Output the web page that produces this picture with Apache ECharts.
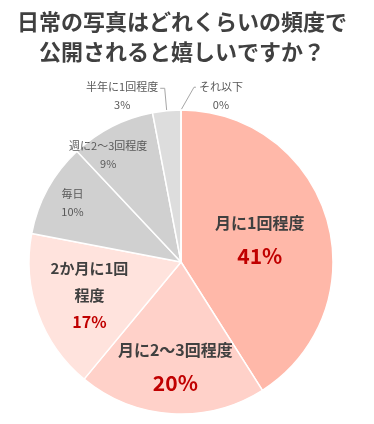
<!DOCTYPE html>
<html>
<head>
<meta charset="utf-8">
<script src="https://cdn.jsdelivr.net/npm/echarts@6/dist/echarts.min.js"></script>
<style>
html,body{margin:0;padding:0;background:#fff;}
#chart{width:374px;height:424px;}
</style>
</head>
<body>
<div id="chart"></div>
<script>
// ---- data ----
var titleLines = ['日常の写真はどれくらいの頻度で', '公開されると嬉しいですか？'];
var categories = ['月に1回程度', '月に2〜3回程度', '2か月に1回\n程度', '毎日', '週に2〜3回程度', '半年に1回程度', 'それ以下'];
var values = [41, 20, 17, 10, 9, 3, 0];

// ---- styling / layout ----
var colors = ['#FFB8A9', '#FFD1C9', '#FFE3DD', '#D0D0D0', '#D0D0D0', '#DDDDDD', '#E6E6E6'];
var labelKinds = ['big', 'big', 'mid', 'small', 'small', 'small', 'small'];
// label anchor in polar terms: [radius fraction, angle shift (deg) from slice middle]
var labelPolar = [[0.54, 0], [0.685, -0.5], [0.64, 0], [0.815, 0], [0.85, -7.3], [1.16, -14.1], [1.125, 13.5]];
var outside = [false, false, false, false, false, true, true];
var CX = 181, CY = 262, R = 152;

var chart = echarts.init(document.getElementById('chart'));

var total = values.reduce(function (a, b) { return a + b; }, 0);
var midAngles = [];
var acc = 0;
values.forEach(function (v) {
  midAngles.push((acc + v / 2) / total * 360);
  acc += v;
});
function polar(r, deg) {
  var a = deg * Math.PI / 180;
  return [CX + r * Math.sin(a), CY - r * Math.cos(a)];
}

var data = categories.map(function (c, i) {
  var kind = labelKinds[i];
  var fmt;
  if (kind === 'big') fmt = '{bn|{b}}\n{bp|{c}%}';
  else if (kind === 'mid') fmt = '{mn|2か月に1回}\n{mn|程度}\n{mp|{c}%}';
  else fmt = '{sn|{b}}\n{sp|{c}%}';
  return {
    name: c,
    value: values[i],
    itemStyle: { color: colors[i] },
    label: { position: outside[i] ? 'outside' : 'inside', formatter: fmt },
    labelLine: { show: outside[i], lineStyle: { color: '#A6A6A6', width: 1 }, length: 10, length2: 6 }
  };
});

var option = {
  animation: false,
  backgroundColor: '#ffffff',
  graphic: [{
    type: 'text',
    x: 182,
    y: 7,
    style: {
      text: titleLines.join('\n'),
      fontSize: 22,
      fontWeight: 'bold',
      fill: '#404040',
      lineHeight: 30,
      align: 'center',
      verticalAlign: 'top',
      fontFamily: '"Noto Sans CJK JP", "Noto Sans", sans-serif'
    }
  }],
  series: [{
    type: 'pie',
    center: [CX, CY],
    radius: [0, R],
    startAngle: 90,
    clockwise: true,
    avoidLabelOverlap: false,
    minShowLabelAngle: 0,
    itemStyle: { borderColor: '#ffffff', borderWidth: 1.5 },
    label: {
      show: true,
      fontFamily: '"Noto Sans CJK JP", "Noto Sans", sans-serif',
      rich: {
        bn: { fontSize: 16, fontWeight: 'bold', color: '#404040', lineHeight: 34, align: 'center' },
        bp: { fontSize: 21, fontWeight: 'bold', color: '#C00000', lineHeight: 32, align: 'center' },
        mn: { fontSize: 15, fontWeight: 'bold', color: '#404040', lineHeight: 27, align: 'center' },
        mp: { fontSize: 16, fontWeight: 'bold', color: '#C00000', lineHeight: 26, align: 'center' },
        sn: { fontSize: 11, color: '#595959', lineHeight: 18, align: 'center' },
        sp: { fontSize: 11, color: '#595959', lineHeight: 18, align: 'center' }
      }
    },
    emphasis: { disabled: true },
    labelLayout: function (params) {
      var i = params.dataIndex;
      var lp = labelPolar[i];
      var p = polar(lp[0] * R, midAngles[i] + lp[1]);
      var res = { x: p[0], y: p[1], align: 'center', verticalAlign: 'middle' };
      if (outside[i]) {
        var edge = polar(R, midAngles[i]);
        var halfW = params.labelRect.width / 2;
        var top = p[1] - params.labelRect.height / 2;
        if (p[0] < CX) {
          res.labelLinePoints = [edge, [edge[0] - 2, top + 7], [p[0] + halfW + 2, top + 7]];
        } else {
          res.labelLinePoints = [edge, [edge[0] + 13, top + 6], [p[0] - halfW - 3, top + 6]];
        }
      }
      return res;
    },
    data: data
  }]
};
chart.setOption(option);
</script>
</body>
</html>
